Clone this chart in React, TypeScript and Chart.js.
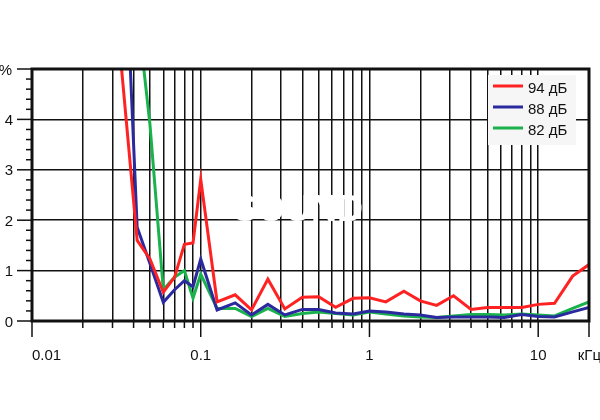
import React, { useEffect, useRef } from "react";
import { Chart, registerables } from "chart.js";

Chart.register(...registerables);

// ---- data (kHz / %) ----
const freqs = [0.0315, 0.042, 0.05, 0.06, 0.07, 0.08, 0.09, 0.1, 0.125, 0.16, 0.2, 0.25, 0.315, 0.4, 0.5, 0.63, 0.8, 1, 1.25, 1.6, 2, 2.5, 3.15, 4, 5, 6.3, 8, 10, 12.5, 16, 20];
const thd94 = [6.2, 1.6, 1.23, 0.57, 0.87, 1.52, 1.55, 2.81, 0.38, 0.52, 0.22, 0.83, 0.24, 0.47, 0.48, 0.27, 0.45, 0.46, 0.38, 0.59, 0.4, 0.31, 0.5, 0.23, 0.27, 0.27, 0.27, 0.33, 0.35, 0.89, 1.12];
const thd88 = [11.6, 1.86, 1.14, 0.37, 0.62, 0.8, 0.68, 1.23, 0.22, 0.36, 0.12, 0.33, 0.12, 0.23, 0.23, 0.16, 0.14, 0.2, 0.18, 0.14, 0.12, 0.07, 0.08, 0.08, 0.08, 0.07, 0.13, 0.09, 0.08, 0.18, 0.27];
const thd82 = [14, 6.2, 3.9, 0.62, 0.87, 1.0, 0.45, 0.93, 0.25, 0.25, 0.09, 0.25, 0.09, 0.15, 0.18, 0.15, 0.12, 0.18, 0.14, 0.1, 0.08, 0.07, 0.1, 0.13, 0.13, 0.12, 0.14, 0.12, 0.1, 0.25, 0.38];

const seriesLabels = ["94 дБ", "88 дБ", "82 дБ"];
const seriesValues = [thd94, thd88, thd82];
const seriesColors = ["#ff2222", "#2a2a9e", "#19b24c"];

const gridFreqs = [
  0.01, 0.02, 0.03, 0.04, 0.05, 0.06, 0.07, 0.08, 0.09,
  0.1, 0.2, 0.3, 0.4, 0.5, 0.6, 0.7, 0.8, 0.9,
  1, 2, 3, 4, 5, 6, 7, 8, 9,
  10, 20,
];
const majorFreqs = [0.01, 0.1, 1, 10, 20];
const xLabelValues = [0.01, 0.1, 1, 10];
const xLabelTexts = ["0.01", "0.1", "1", "10"];
const xUnit = "кГц";
const yLabelValues = [0, 1, 2, 3, 4];
const yUnit = "%";
const yMin = 0;
const yMax = 5;
const xMin = 0.01;
const xMax = 20;

const FONT = '15px "Liberation Sans", Arial, sans-serif';

const decorPlugin = {
  id: "decor",
  beforeDatasetsDraw(chart: any) {
    const { ctx } = chart;
    ctx.save();
    ctx.fillStyle = "#ffffff";
    ctx.font = 'bold 36px "Liberation Sans", Arial, sans-serif';
    ctx.textAlign = "center";
    ctx.textBaseline = "alphabetic";
    ctx.fillText("SOUND", 298, 221);
    ctx.restore();
  },
  afterDatasetsDraw(chart: any) {
    const { ctx, chartArea: a, scales } = chart;
    const xs = scales.x;
    const ys = scales.y;
    ctx.save();
    ctx.strokeStyle = "#111";
    ctx.lineWidth = 1.5;
    // y tick marks (minor 0.2 steps, major integers)
    for (let i = 0; i <= 25; i++) {
      const v = i / 5;
      const py = ys.getPixelForValue(v);
      const len = i % 5 === 0 ? 15 : 6;
      ctx.beginPath();
      ctx.moveTo(a.left - len, py);
      ctx.lineTo(a.left, py);
      ctx.stroke();
    }
    // x tick marks
    gridFreqs.forEach((f) => {
      const px = xs.getPixelForValue(f);
      const len = majorFreqs.includes(f) ? 16 : 7;
      ctx.beginPath();
      ctx.moveTo(px, a.bottom);
      ctx.lineTo(px, a.bottom + len);
      ctx.stroke();
    });
    // frame
    ctx.lineWidth = 3;
    ctx.strokeRect(a.left, a.top, a.right - a.left, a.bottom - a.top);

    // labels
    ctx.fillStyle = "#111";
    ctx.font = FONT;
    ctx.textBaseline = "alphabetic";
    ctx.textAlign = "right";
    yLabelValues.forEach((v) => {
      ctx.fillText(String(v), 13, ys.getPixelForValue(v) + 5.5);
    });
    ctx.fillText(yUnit, 12, ys.getPixelForValue(yMax) + 5.5);
    xLabelValues.forEach((v, i) => {
      const px = xs.getPixelForValue(v);
      ctx.textAlign = i === 0 ? "left" : "center";
      ctx.fillText(xLabelTexts[i], px, 360);
    });
    ctx.textAlign = "right";
    ctx.fillText(xUnit, 601, 360);

    // legend
    ctx.fillStyle = "#f6f6f6";
    ctx.fillRect(488, 75, 88, 70);
    const rows = [86, 107, 128];
    chart.data.datasets.forEach((ds: any, i: number) => {
      ctx.strokeStyle = ds.borderColor;
      ctx.lineWidth = 3;
      ctx.beginPath();
      ctx.moveTo(493, rows[i]);
      ctx.lineTo(523, rows[i]);
      ctx.stroke();
      ctx.fillStyle = "#111";
      ctx.textAlign = "left";
      ctx.font = FONT;
      ctx.fillText(ds.label, 528, rows[i] + 7);
    });
    ctx.restore();
  },
};

export default function App() {
  const ref = useRef<HTMLCanvasElement>(null);
  useEffect(() => {
    const chart = new Chart(ref.current as HTMLCanvasElement, {
      type: "line",
      data: {
        datasets: seriesLabels.map((label, i) => ({
          label,
          data: freqs.map((f, j) => ({ x: f, y: seriesValues[i][j] })),
          borderColor: seriesColors[i],
          backgroundColor: seriesColors[i],
          borderWidth: 3,
          pointRadius: 0,
          tension: 0,
          fill: false,
          clip: 0,
        })),
      },
      options: {
        animation: false,
        responsive: false,
        maintainAspectRatio: false,
        layout: { padding: { top: 69, right: 11, left: 0, bottom: 0 } },
        plugins: { legend: { display: false }, tooltip: { enabled: false } },
        scales: {
          x: {
            type: "logarithmic",
            min: xMin,
            max: xMax,
            ticks: { display: false },
            grid: { color: "#111", lineWidth: 1.5, drawTicks: false },
            border: { display: false },
            afterBuildTicks: (scale: any) => {
              scale.ticks = gridFreqs.map((v) => ({ value: v }));
            },
            afterFit: (scale: any) => {
              scale.height = 99;
            },
          },
          y: {
            type: "linear",
            min: yMin,
            max: yMax,
            ticks: { display: false, stepSize: 1 },
            grid: { color: "#111", lineWidth: 1.5, drawTicks: false },
            border: { display: false },
            afterFit: (scale: any) => {
              scale.width = 32;
            },
          },
        },
      },
      plugins: [decorPlugin],
    } as any);
    return () => chart.destroy();
  }, []);
  return (
    <div style={{ position: "absolute", left: 0, top: 0, width: 600, height: 420, background: "#fff" }}>
      <canvas ref={ref} width={600} height={420} style={{ display: "block", width: 600, height: 420 }} />
    </div>
  );
}
